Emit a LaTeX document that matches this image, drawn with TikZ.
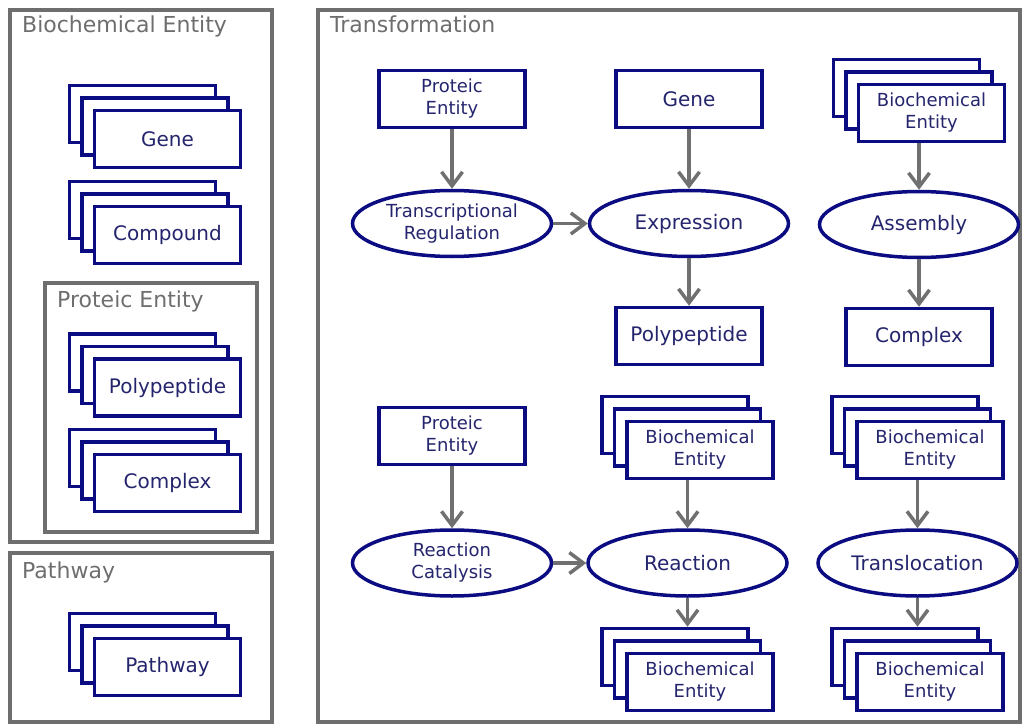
\documentclass[tikz,border=0pt]{standalone}
\usepackage{fontspec}
\setmainfont{DejaVu Sans}
\usetikzlibrary{shapes.geometric,shadows,arrows.meta,calc}
\definecolor{edgenavy}{HTML}{0C0C82}
\definecolor{labelnavy}{HTML}{25256E}
\definecolor{framegray}{HTML}{6E6E6E}
\definecolor{arrowgray}{HTML}{707070}
\begin{document}
\begin{tikzpicture}[x=1pt,y=-1pt,
  frame/.style={draw=framegray, line width=3.5pt},
  frametitle/.style={anchor=base west, inner sep=0pt, text=framegray,
    font=\fontsize{22}{26}\selectfont},
  entity/.style={rectangle, draw=edgenavy, line width=3.5pt, fill=white,
    minimum width=146pt, minimum height=57pt, inner sep=2pt,
    text=labelnavy, align=center, font=\fontsize{20}{24}\selectfont},
  twoline/.style={font=\fontsize{18}{22}\selectfont},
  stack/.style={entity,
    copy shadow={shadow xshift=-25pt, shadow yshift=25pt,
      draw=edgenavy, line width=3.5pt, fill=white},
    copy shadow={shadow xshift=-12.5pt, shadow yshift=12.5pt,
      draw=edgenavy, line width=3.5pt, fill=white}},
  process/.style={ellipse, draw=edgenavy, line width=3.5pt, fill=white,
    minimum width=199pt, minimum height=66pt, inner sep=0pt,
    text=labelnavy, align=center, font=\fontsize{20}{24}\selectfont},
  flow/.style={draw=arrowgray, line width=3.5pt,
    -{Straight Barb[length=14pt,width=21pt]}}
]
\useasboundingbox (0,0) rectangle (1026,725);

% group frames
\draw[frame] (10,10) rectangle (272,542);
\draw[frame] (45,283) rectangle (257,532);
\draw[frame] (10,553) rectangle (272,722);
\draw[frame] (318,10) rectangle (1020,722);

\node[frametitle] (tBE) at (22,33) {Biochemical Entity};
\node[frametitle] (tPE) at (57,307) {Proteic Entity};
\node[frametitle] (tPW) at (22,578) {Pathway};
\node[frametitle] (tTF) at (330,33) {Transformation};

% entity classes
\node[stack] (sGene) at (167.5,139) {Gene};
\node[stack] (sCompound) at (167.5,235) {Compound};
\node[stack] (sPoly) at (167.5,387.5) {Polypeptide};
\node[stack] (sComplex) at (167.5,483) {Complex};
\node[stack] (sPathway) at (167.5,667) {Pathway};

% transformations: top row
\node[entity, twoline] (pe1) at (452,99) {Proteic\\Entity};
\node[entity] (gene1) at (689,99) {Gene};
\node[stack, twoline] (be1) at (931.5,113) {Biochemical\\Entity};
\node[process, twoline] (tr) at (452,223.5) {Transcriptional\\Regulation};
\node[process] (expr) at (689,223.5) {Expression};
\node[process] (asm) at (919,224.5) {Assembly};
\node[entity] (poly) at (689,336) {Polypeptide};
\node[entity] (cplx) at (919,337) {Complex};

% transformations: bottom row
\node[entity, twoline] (pe2) at (452,436) {Proteic\\Entity};
\node[stack, twoline] (be2) at (700,450) {Biochemical\\Entity};
\node[stack, twoline] (be3) at (930,450) {Biochemical\\Entity};
\node[process, twoline] (rc) at (452,563) {Reaction\\Catalysis};
\node[process] (rx) at (687.5,563) {Reaction};
\node[process] (tl) at (917.5,563) {Translocation};
\node[stack, twoline] (be4) at (700,682) {Biochemical\\Entity};
\node[stack, twoline] (be5) at (930,682) {Biochemical\\Entity};

% connectors
\draw[flow] (pe1.south) -- (tr.north);
\draw[flow] (gene1.south) -- (expr.north);
\draw[flow] ([xshift=-12.5pt]be1.south) -- (asm.north);
\draw[flow] (tr.east) -- (expr.west);
\draw[flow] (expr.south) -- (poly.north);
\draw[flow] (asm.south) -- (cplx.north);

\draw[flow] (pe2.south) -- (rc.north);
\draw[flow] ([xshift=-12.5pt]be2.south) -- (rx.north);
\draw[flow] ([xshift=-12.5pt]be3.south) -- (tl.north);
\draw[flow] (rc.east) -- (rx.west);
\draw[flow] (rx.south) -- ([xshift=-12.5pt,yshift=25pt]be4.north);
\draw[flow] (tl.south) -- ([xshift=-12.5pt,yshift=25pt]be5.north);
\end{tikzpicture}
\end{document}
